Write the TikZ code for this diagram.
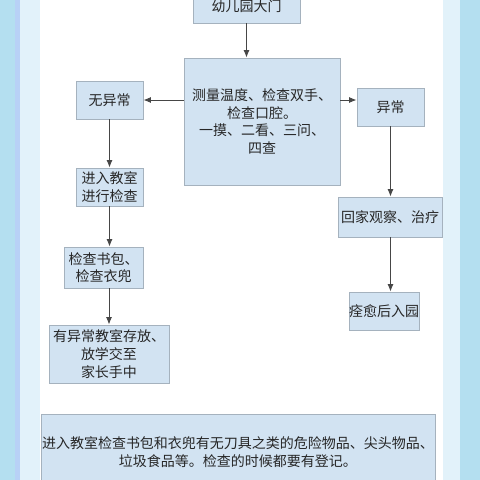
\documentclass[tikz,border=0pt]{standalone}
\usepackage{fontspec}
\setmainfont{Noto Sans CJK SC}
\usepackage{tikz}
\usetikzlibrary{calc,arrows.meta}
\definecolor{frameblue}{RGB}{180,223,240}
\definecolor{stripblue}{RGB}{226,242,250}
\definecolor{boxfill}{RGB}{210,227,242}
\definecolor{boxline}{RGB}{165,178,190}
\definecolor{arrowgray}{RGB}{70,70,70}

\begin{document}
\begin{tikzpicture}[x=1pt,y=-1pt,
	kuang/.style={draw=boxline,fill=boxfill,line width=0.9pt,inner sep=0pt,align=center,font=\fontsize{14}{17.6}\selectfont,text=black!85},
	jiantou/.style={draw=arrowgray,line width=0.9pt,-{Latex[length=7.5pt,width=6pt]}}]
	\useasboundingbox (0,0) rectangle (480,480);
	\fill[frameblue] (0,0) rectangle (480,480);
	\fill[frameblue!85!blue!70!white] (15,0) rectangle (20,480);
	\fill[stripblue] (20,0) rectangle (460,480);
	\fill[white] (40,0) rectangle (443,480);
	
	\node[kuang,minimum width=107,minimum height=33] (gate) at (246.5,6.5) {幼儿园大门};
	\node[kuang,minimum width=156,minimum height=127] (check) at (262,121.5) {测量温度、检查双手、\\检查口腔。\\一摸、二看、三问、\\四查};
	\node[kuang,minimum width=67,minimum height=38] (normal) at (109.5,100) {无异常};
	\node[kuang,minimum width=67,minimum height=38] (abnormal) at (390.5,107) {异常};
	\node[kuang,minimum width=67,minimum height=38] (enter) at (109.5,187) {进入教室\\进行检查};
	\node[kuang,minimum width=104,minimum height=40] (home) at (390,217) {回家观察、治疗};
	\node[kuang,minimum width=79,minimum height=41] (bag) at (103.5,267.5) {检查书包、\\检查衣兜};
	\node[kuang,minimum width=120,minimum height=58] (keep) at (109,354) {有异常教室存放、\\放学交至\\家长手中};
	\node[kuang,minimum width=66,minimum height=38] (heal) at (384,311) {痊愈后入园};
	\node[kuang,minimum width=394,minimum height=76] (note) at (238,452) {进入教室检查书包和衣兜有无刀具之类的危险物品、尖头物品、\\垃圾食品等。检查的时候都要有登记。};
	
	\draw[jiantou] (gate.south) -- (gate.south |- check.north);
	\draw[jiantou] (check.west |- normal.east) -- (normal.east);
	\draw[jiantou] (check.east |- normal.east) -- (abnormal.west |- normal.east);
	\draw[jiantou] (normal.south) -- (enter.north);
	\draw[jiantou] (enter.south) -- (enter.south |- bag.north);
	\draw[jiantou] (keep.north |- bag.south) -- (keep.north);
	\draw[jiantou] (abnormal.south) -- (abnormal.south |- home.north);
	\draw[jiantou] (abnormal.south |- home.south) -- (abnormal.south |- heal.north);
\end{tikzpicture}
\end{document}
